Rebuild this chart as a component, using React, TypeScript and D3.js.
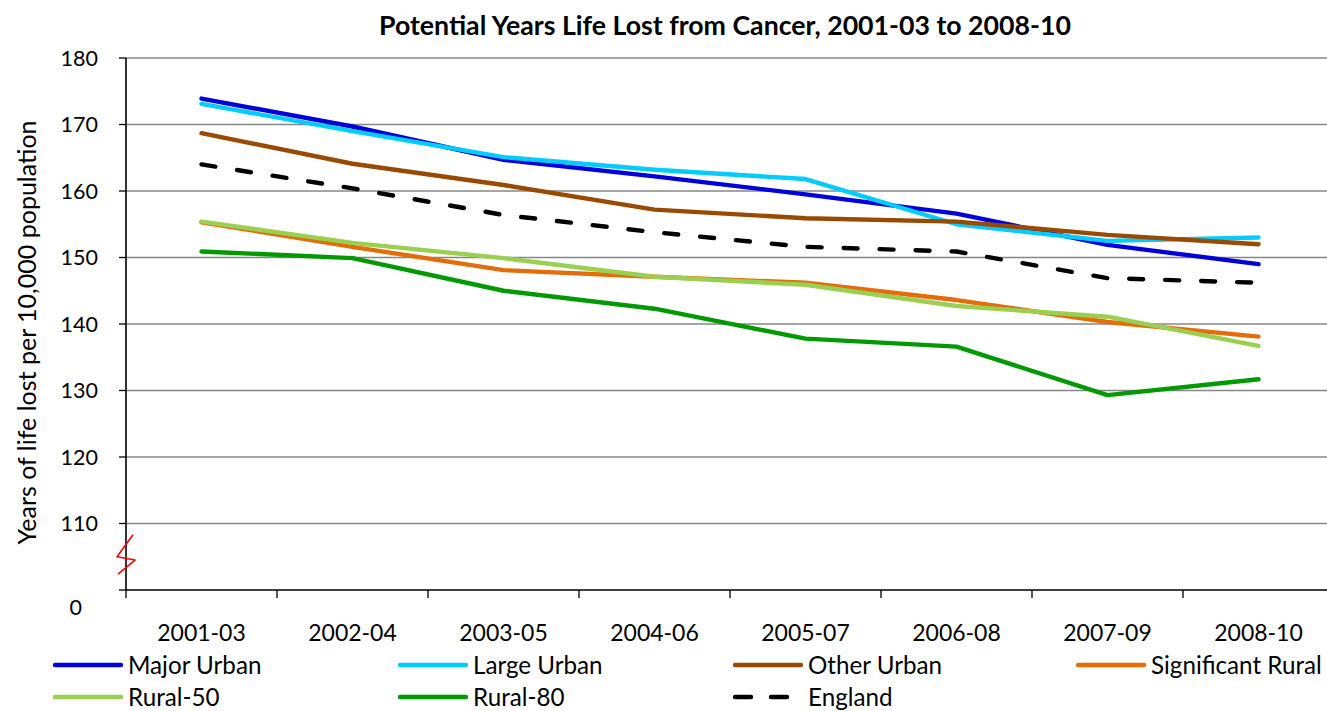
import React from "react";
import * as d3 from "d3";

const categories = ["2001-03", "2002-04", "2003-05", "2004-06", "2005-07", "2006-08", "2007-09", "2008-10"];
const yTicks = [100, 110, 120, 130, 140, 150, 160, 170, 180];
const yTickLabels = ["0", "110", "120", "130", "140", "150", "160", "170", "180"];

const majorUrban = [173.9, 169.7, 164.7, 162.2, 159.5, 156.6, 151.9, 149.0];
const largeUrban = [173.1, 169.0, 165.1, 163.2, 161.8, 155.0, 152.5, 153.0];
const otherUrban = [168.7, 164.1, 160.9, 157.2, 155.9, 155.4, 153.4, 152.0];
const significantRural = [155.3, 151.6, 148.1, 147.1, 146.2, 143.6, 140.3, 138.1];
const rural50 = [155.4, 152.2, 149.9, 147.1, 145.9, 142.7, 141.1, 136.7];
const rural80 = [150.9, 149.9, 145.0, 142.3, 137.8, 136.6, 129.3, 131.7];
const england = [164.0, 160.4, 156.4, 153.8, 151.6, 150.9, 146.9, 146.2];

const seriesNames = ["Major Urban", "Large Urban", "Other Urban", "Significant Rural", "Rural-50", "Rural-80", "England"];
const seriesValues = [majorUrban, largeUrban, otherUrban, significantRural, rural50, rural80, england];
const seriesColors = ["#0000DD", "#00CCFF", "#9A4A00", "#E46C0A", "#99D050", "#009900", "#000000"];

const FONT = "Lato, Carlito, Calibri, sans-serif";

export default function App() {
  const W = 1327;
  const H = 711;
  const left = 126;
  const top = 58;
  const bottom = 590;
  const band = 151;
  const right = left + band * categories.length;

  const x = d3.scaleBand<string>().domain(categories).range([left, right]).padding(0);
  const y = d3.scaleLinear().domain([100, 180]).range([bottom, top]);
  const cx = (c: string) => (x(c) as number) + x.bandwidth() / 2;

  const line = d3
    .line<number>()
    .x((_, i) => cx(categories[i]))
    .y((v) => y(v));

  const legendCols = [55, 400, 735, 1078];
  const legendRows = [665, 697];

  const breakPts: [number, number][] = [
    [left + 7, y(108.3)],
    [left - 9, y(105.0)],
    [left + 9, y(104.5)],
    [left - 8, y(102.4)],
  ];

  return (
    <svg width={W} height={H} style={{ position: "absolute", left: 0, top: 0, background: "#fff" }} fontFamily={FONT}>
      <rect x={0} y={0} width={W} height={H} fill="#fff" />
      <text x={725} y={35} textAnchor="middle" fontWeight="bold" fontSize={26.7} fill="#000">
        Potential Years Life Lost from Cancer, 2001-03 to 2008-10
      </text>

      {/* gridlines */}
      {yTicks.filter((t) => t > 100).map((t) => (
        <line key={t} x1={left} x2={right} y1={y(t)} y2={y(t)} stroke="#878787" strokeWidth={1.3} />
      ))}

      {/* y ticks & labels */}
      {yTicks.map((t, i) => (
        <g key={t}>
          <line x1={left - 7} x2={left} y1={y(t)} y2={y(t)} stroke="#000" strokeWidth={1.3} />
          <text
            x={t === 100 ? 82 : 98}
            y={t === 100 ? y(t) + 17 : y(t)}
            dy="0.36em"
            textAnchor="end"
            fontSize={21.5}
            fill="#000"
          >
            {yTickLabels[i]}
          </text>
        </g>
      ))}

      {/* x ticks & labels */}
      {categories.map((c) => (
        <line key={c} x1={x(c) as number} x2={x(c) as number} y1={bottom} y2={bottom + 8} stroke="#000" strokeWidth={1.3} />
      ))}
      <line x1={right} x2={right} y1={bottom} y2={bottom + 8} stroke="#000" strokeWidth={1.3} />
      {categories.map((c) => (
        <text key={c} x={cx(c)} y={641} textAnchor="middle" fontSize={23} fill="#000">
          {c}
        </text>
      ))}

      {/* axes */}
      <line x1={left} x2={left} y1={top} y2={bottom} stroke="#000" strokeWidth={1.6} />
      <line x1={left} x2={right} y1={bottom} y2={bottom} stroke="#000" strokeWidth={1.6} />

      {/* axis break */}
      <path d={d3.line()(breakPts) as string} fill="none" stroke="#FF0000" strokeWidth={1.6} strokeLinejoin="round" />

      {/* y label */}
      <text
        transform={`translate(36, ${(115 + 550) / 2}) rotate(-90)`}
        textAnchor="middle"
        fontSize={25}
        fill="#000"
      >
        Years of life lost per 10,000 population
      </text>

      {/* series */}
      {seriesValues.map((vals, i) => (
        <path
          key={seriesNames[i]}
          d={line(vals) as string}
          fill="none"
          stroke={seriesColors[i]}
          strokeWidth={4.4}
          strokeLinejoin="round"
          strokeLinecap="round"
          strokeDasharray={seriesNames[i] === "England" ? "14 22" : undefined}
        />
      ))}

      {/* legend */}
      {seriesNames.map((name, i) => {
        const col = i % 4;
        const row = Math.floor(i / 4);
        const lx = legendCols[col];
        const ly = legendRows[row];
        const isDash = name === "England";
        return (
          <g key={name}>
            <line
              x1={lx}
              x2={lx + 66}
              y1={ly}
              y2={ly}
              stroke={seriesColors[i]}
              strokeWidth={4.4}
              strokeLinecap="round"
              strokeDasharray={isDash ? "16 20" : undefined}
            />
            <text x={lx + 73} y={ly} dy="0.36em" fontSize={24.2} fill="#000">
              {name}
            </text>
          </g>
        );
      })}
    </svg>
  );
}
